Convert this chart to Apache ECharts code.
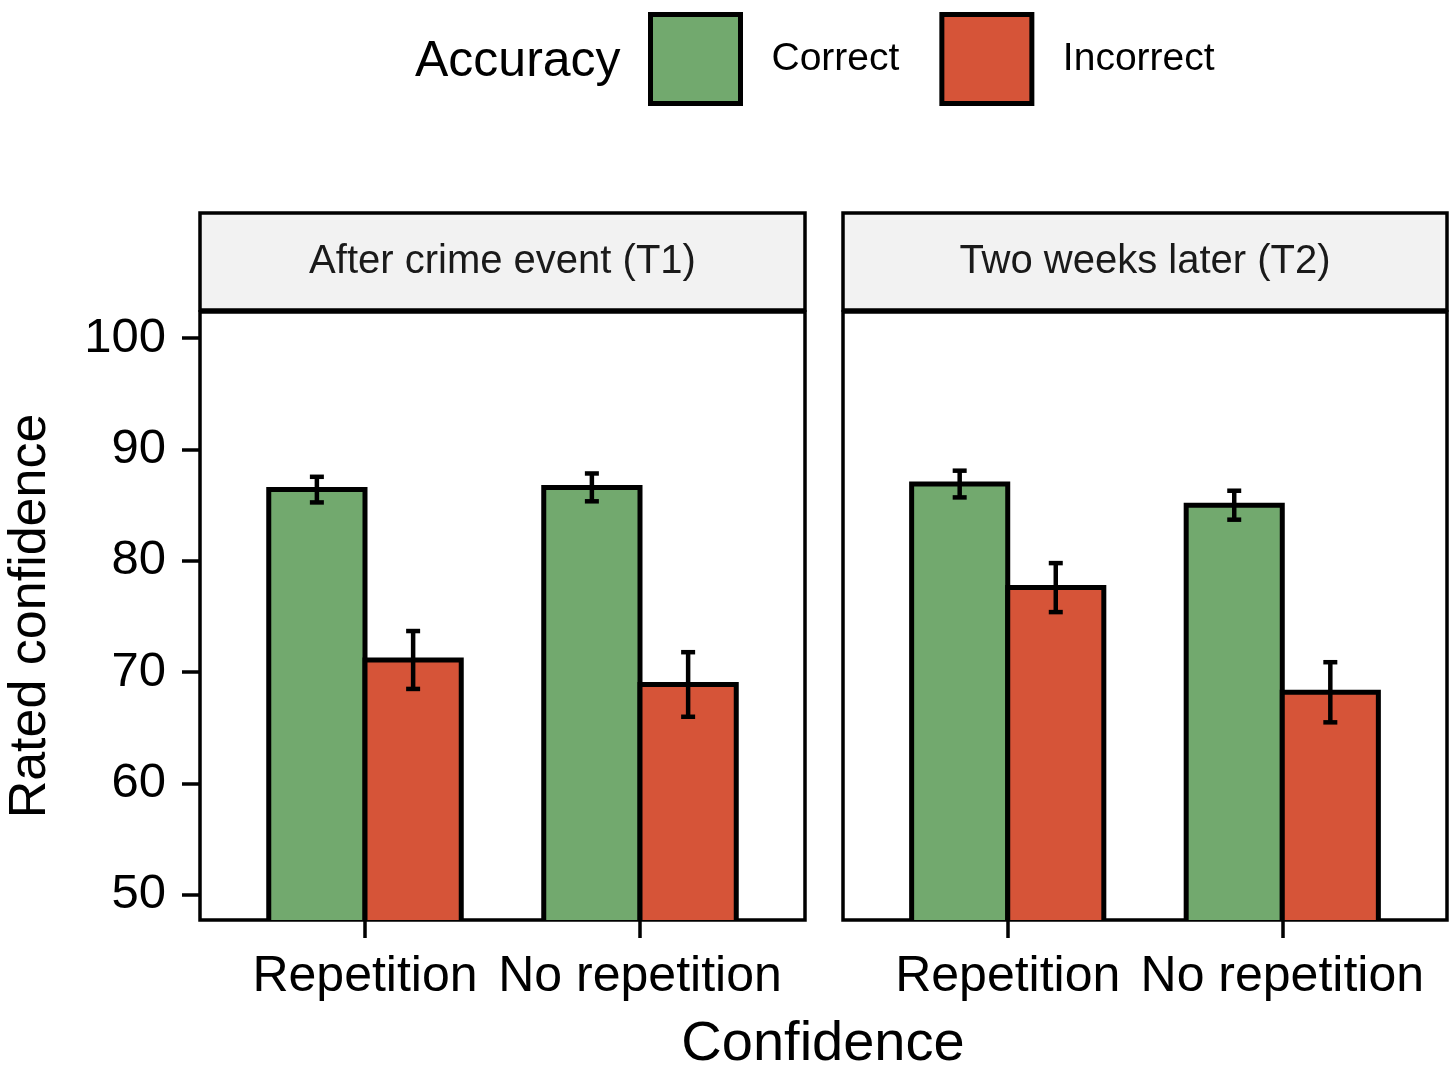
<!DOCTYPE html>
<html><head><meta charset="utf-8">
<script src="https://cdn.jsdelivr.net/npm/echarts@6/dist/echarts.min.js"></script>
<style>html,body{margin:0;padding:0;background:#fff}#c{width:1451px;height:1067px}</style>
</head><body><div id="c"></div><script>
const panels = ['After crime event (T1)', 'Two weeks later (T2)'];
const conditions = ['Repetition', 'No repetition'];
const accuracy = ['Correct', 'Incorrect'];
// values per panel, ordered [Repetition, No repetition]
const correctT1 = [86.4, 86.6];
const correctT1Err = [1.15, 1.25];
const incorrectT1 = [71.1, 68.9];
const incorrectT1Err = [2.6, 2.9];
const correctT2 = [86.9, 85.0];
const correctT2Err = [1.2, 1.3];
const incorrectT2 = [77.6, 68.2];
const incorrectT2Err = [2.2, 2.7];
const yTicks = [50, 60, 70, 80, 90, 100];

const GREEN = '#72A96E', RED = '#D65438';
const FONT = 'Liberation Sans, Arial, sans-serif';
const chart = echarts.init(document.getElementById('c'));

const panelBoxes = [{left: 200, width: 605}, {left: 843, width: 604}];
const gridTop = 312, gridH = 608;

function makeSeries(name, color, means, errs, panelIdx, side) {
  return {
    type: 'custom', name: name, xAxisIndex: panelIdx, yAxisIndex: panelIdx,
    clip: true,
    itemStyle: {color: color},
    data: conditions.map((c, i) => [i + 1, means[i], errs[i]]),
    renderItem: function (params, api) {
      const x = api.value(0), v = api.value(1), e = api.value(2);
      const x0 = side === 0 ? x - 0.35 : x, x1 = side === 0 ? x : x + 0.35;
      const p0 = api.coord([x0, v]), p1 = api.coord([x1, 44]);
      const cx = (x0 + x1) / 2;
      const t = api.coord([cx, v + e]), b = api.coord([cx, v - e]);
      const cap = 7;
      const ls = {stroke: '#000', lineWidth: 4.5};
      return {type: 'group', children: [
        {type: 'rect', shape: {x: p0[0], y: p0[1], width: p1[0] - p0[0], height: p1[1] - p0[1]},
         style: {fill: color, stroke: '#000', lineWidth: 5}},
        {type: 'line', shape: {x1: t[0], y1: t[1], x2: b[0], y2: b[1]}, style: ls},
        {type: 'line', shape: {x1: t[0] - cap, y1: t[1], x2: t[0] + cap, y2: t[1]}, style: ls},
        {type: 'line', shape: {x1: b[0] - cap, y1: b[1], x2: b[0] + cap, y2: b[1]}, style: ls}
      ]};
    }
  };
}

const option = {
  animation: false,
  backgroundColor: '#fff',
  textStyle: {fontFamily: FONT},
  legend: {
    data: accuracy, left: 643, top: 7, itemWidth: 90, itemHeight: 89, itemGap: 40,
    icon: 'rect', selectedMode: false,
    itemStyle: {borderColor: '#000', borderWidth: 5},
    textStyle: {fontSize: 39, color: '#000', fontFamily: FONT, padding: [0, 0, 0, 26]}
  },
  grid: panelBoxes.map(p => ({left: p.left, top: gridTop, width: p.width, height: gridH,
    show: true, borderColor: '#000', borderWidth: 3.5, backgroundColor: '#fff'})),
  xAxis: panelBoxes.map((p, k) => ({
    type: 'value', gridIndex: k, min: 0.4, max: 2.6,
    axisLine: {show: false}, splitLine: {show: false},
    axisTick: {show: true, customValues: [1, 2], length: 18, lineStyle: {color: '#000', width: 3.5}},
    axisLabel: {customValues: [1, 2], formatter: v => conditions[Math.round(v) - 1],
      fontSize: 50, color: '#000', margin: 32, fontFamily: FONT}
  })),
  yAxis: panelBoxes.map((p, k) => ({
    type: 'value', gridIndex: k, min: 47.75, max: 102.35,
    name: k === 0 ? 'Rated confidence' : '', nameLocation: 'middle', nameGap: 143,
    nameTextStyle: {fontSize: 52, color: '#000', fontFamily: FONT},
    axisLine: {show: false}, splitLine: {show: false},
    axisTick: {show: k === 0, customValues: yTicks, length: 18, lineStyle: {color: '#000', width: 3.5}},
    axisLabel: {show: k === 0, customValues: yTicks, fontSize: 49, color: '#000', margin: 34, fontFamily: FONT}
  })),
  series: [
    makeSeries('Correct', GREEN, correctT1, correctT1Err, 0, 0),
    makeSeries('Incorrect', RED, incorrectT1, incorrectT1Err, 0, 1),
    makeSeries('Correct', GREEN, correctT2, correctT2Err, 1, 0),
    makeSeries('Incorrect', RED, incorrectT2, incorrectT2Err, 1, 1)
  ],
  graphic: [
    {type: 'text', left: 415, top: 37, style: {text: 'Accuracy', fontSize: 50, fill: '#000', fontFamily: FONT}},
    {type: 'text', x: 823, y: 1045, style: {text: 'Confidence', fontSize: 56, fill: '#000', fontFamily: FONT,
      align: 'center', verticalAlign: 'middle'}}
  ].concat(panelBoxes.map((p, k) => ({
    type: 'group', children: [
      {type: 'rect', shape: {x: p.left, y: 213, width: p.width, height: 97},
       style: {fill: '#F2F2F2', stroke: '#000', lineWidth: 3.5}},
      {type: 'text', x: p.left + p.width / 2, y: 262,
       style: {text: panels[k], fontSize: 40, fill: '#1a1a1a', fontFamily: FONT, align: 'center', verticalAlign: 'middle'}}
    ]
  })))
};
chart.setOption(option);
</script></body></html>
